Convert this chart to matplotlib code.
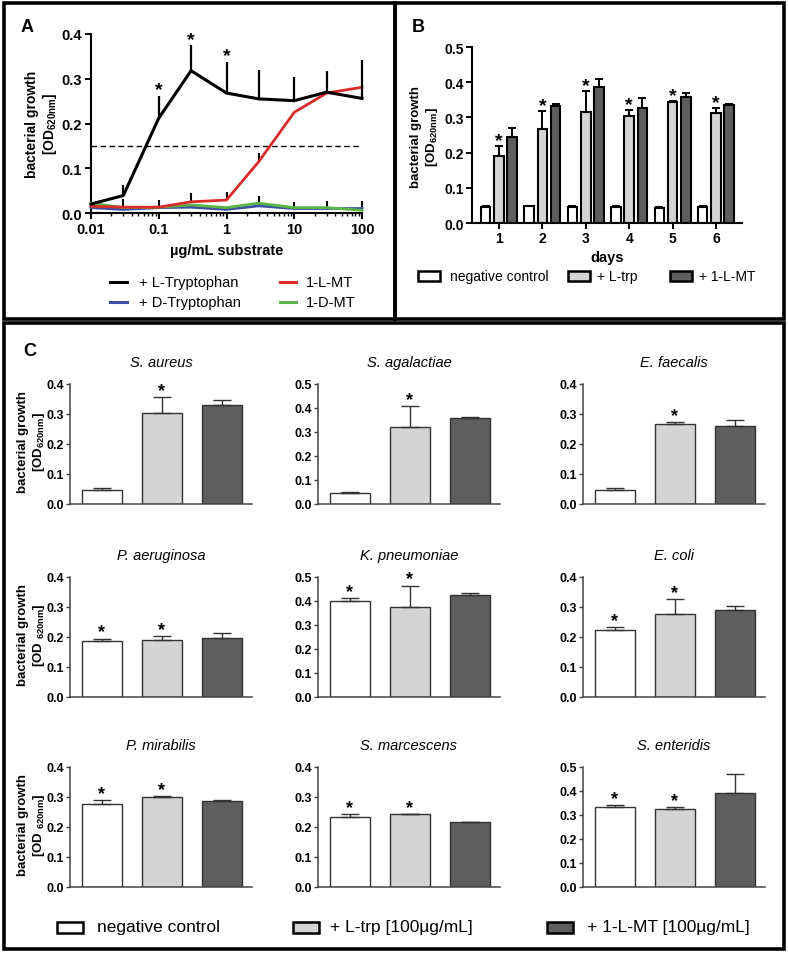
import matplotlib
matplotlib.use("Agg")
import matplotlib.pyplot as plt
from matplotlib.patches import Rectangle
from matplotlib.lines import Line2D
import numpy as np

plt.rcParams["font.family"] = ["Liberation Sans", "DejaVu Sans"]
plt.rcParams["mathtext.fontset"] = "custom"
plt.rcParams["mathtext.rm"] = "Liberation Sans"
plt.rcParams["mathtext.bf"] = "Liberation Sans:bold"
plt.rcParams["mathtext.it"] = "Liberation Sans:italic"

W, H = 788, 954

# ---- panel A data: dose response ----
conc = [0.01, 0.03, 0.1, 0.3, 1, 3, 10, 30, 100]
l_trp = [0.020, 0.039, 0.212, 0.318, 0.268, 0.255, 0.251, 0.270, 0.256]
l_trp_err = [0.0, 0.024, 0.050, 0.057, 0.070, 0.065, 0.054, 0.047, 0.087]
l_mt = [0.015, 0.013, 0.013, 0.025, 0.029, 0.115, 0.225, 0.268, 0.281]
l_mt_err = [0.0, 0.0, 0.0, 0.020, 0.018, 0.020, 0.0, 0.0, 0.0]
d_trp = [0.012, 0.008, 0.012, 0.013, 0.008, 0.016, 0.010, 0.010, 0.010]
d_trp_err = [0.0, 0.024, 0.018, 0.0, 0.0, 0.022, 0.015, 0.017, 0.017]
d_mt = [0.022, 0.012, 0.013, 0.018, 0.012, 0.022, 0.012, 0.012, 0.006]
a_star = [False, False, True, True, True, False, False, False, False]
a_xticks = [0.01, 0.1, 1, 10, 100]
a_xticklabels = ["0.01", "0.1", "1", "10", "100"]
threshold = 0.15

# ---- panel B data: time course ----
days = [1, 2, 3, 4, 5, 6]
b_neg = [0.045, 0.047, 0.046, 0.046, 0.043, 0.045]
b_neg_err = [0.002, 0.002, 0.002, 0.002, 0.002, 0.002]
b_trp = [0.190, 0.266, 0.316, 0.304, 0.343, 0.312]
b_trp_err = [0.030, 0.052, 0.060, 0.018, 0.004, 0.015]
b_mt = [0.245, 0.333, 0.386, 0.328, 0.358, 0.335]
b_mt_err = [0.025, 0.004, 0.024, 0.027, 0.010, 0.004]

# ---- panel C data: species ----
species = ["S. aureus", "S. agalactiae", "E. faecalis",
           "P. aeruginosa", "K. pneumoniae", "E. coli",
           "P. mirabilis", "S. marcescens", "S. enteridis"]
c_neg = [0.047, 0.044, 0.047, 0.187, 0.401, 0.224, 0.278, 0.232, 0.332]
c_neg_err = [0.006, 0.005, 0.006, 0.008, 0.010, 0.008, 0.013, 0.011, 0.008]
c_trp = [0.305, 0.322, 0.267, 0.191, 0.375, 0.276, 0.300, 0.244, 0.325]
c_trp_err = [0.052, 0.086, 0.006, 0.013, 0.089, 0.051, 0.004, 0.0, 0.007]
c_mt = [0.329, 0.357, 0.259, 0.198, 0.426, 0.291, 0.288, 0.216, 0.392]
c_mt_err = [0.017, 0.007, 0.022, 0.016, 0.007, 0.011, 0.001, 0.002, 0.077]
c_ymax = [0.4, 0.5, 0.4, 0.4, 0.5, 0.4, 0.4, 0.4, 0.5]
c_star_neg = [False, False, False, True, True, True, True, True, True]
c_star_trp = [True, True, True, True, True, True, True, True, True]

WHITE, LIGHT, DARK = "#ffffff", "#d4d4d4", "#5e5e5e"


def px_axes(fig, left, top, right, bottom):
    return fig.add_axes([left / W, 1 - bottom / H, (right - left) / W, (bottom - top) / H])


def fx(px):
    return px / W


def fy(py):
    return 1 - py / H


def frame(fig, x0, y0, x1, y1):
    fig.patches.append(Rectangle((fx(x0), fy(y1)), fx(x1) - fx(x0), fy(y0) - fy(y1),
                                 transform=fig.transFigure, fill=False, lw=2.6,
                                 ec="black", zorder=10))


def star(ax, x, y, size=13, offset=1.0):
    ax.annotate("*", (x, y), xytext=(0, offset), textcoords="offset points",
                ha="center", va="baseline", fontsize=size, fontweight="bold",
                annotation_clip=False)


def legend_box(fig, x0, x1, yc, color, lw=1.6, h=10):
    fig.patches.append(Rectangle((fx(x0), fy(yc + h / 2)), fx(x1) - fx(x0), h / H,
                                 transform=fig.transFigure, fc=color, ec="black", lw=lw))


fig = plt.figure(figsize=(W / 100, H / 100), dpi=100)

# ================= Panel A =================
axA = px_axes(fig, 91, 35, 362, 214)
axA.plot(conc, d_trp, color="#3b4fa3", lw=2, zorder=3, clip_on=False)
axA.plot(conc, d_mt, color="#5bb548", lw=2, zorder=3, clip_on=False)
axA.errorbar(conc, d_trp, yerr=[np.zeros(len(conc)), d_trp_err], fmt="none",
             ecolor="black", elinewidth=1.5, capsize=0, zorder=2, clip_on=False)
axA.plot(conc, l_mt, color="#d92b2b", lw=2, zorder=4, clip_on=False)
axA.errorbar(conc, l_mt, yerr=[np.zeros(len(conc)), l_mt_err], fmt="none",
             ecolor="black", elinewidth=1.5, capsize=0, zorder=2, clip_on=False)
axA.plot(conc, l_trp, color="black", lw=2.2, zorder=5, clip_on=False)
axA.errorbar(conc, l_trp, yerr=[np.zeros(len(conc)), l_trp_err], fmt="none",
             ecolor="black", elinewidth=1.6, capsize=0, zorder=5, clip_on=False)
axA.axhline(threshold, color="black", lw=1.0, ls=(0, (4, 2.5)), zorder=1)
for xv, yv, ev, s in zip(conc, l_trp, l_trp_err, a_star):
    if s:
        star(axA, xv, yv + ev, size=14, offset=1.0)
axA.set_xscale("log")
axA.set_xlim(0.01, 100)
axA.set_ylim(0, 0.4)
axA.set_xticks(a_xticks)
axA.set_xticklabels(a_xticklabels)
axA.set_yticks([0.0, 0.1, 0.2, 0.3, 0.4])
axA.set_yticklabels(["0.0", "0.1", "0.2", "0.3", "0.4"])
for sp in ["top", "right"]:
    axA.spines[sp].set_visible(False)
for sp in ["left", "bottom"]:
    axA.spines[sp].set_linewidth(1.5)
axA.tick_params(which="major", direction="out", length=4.5, width=1.4, labelsize=10.5, pad=2)
axA.tick_params(which="minor", direction="out", length=2.5, width=1.0)
for lab in axA.get_xticklabels() + axA.get_yticklabels():
    lab.set_fontweight("bold")
axA.set_xlabel("µg/mL substrate", fontsize=10.5, fontweight="bold", labelpad=5)
fig.text(fx(42), fy(124), "bacterial growth\n[OD$_{\\mathbf{620nm}}$]", rotation=90,
         ha="center", va="center", fontsize=10, fontweight="bold", linespacing=1.1)
fig.text(fx(27), fy(27), "A", fontsize=13, fontweight="bold", ha="center", va="center")

a_leg = [("+ L-Tryptophan", "black", 110, 127, 139, 283),
         ("+ D-Tryptophan", "#3b4fa3", 110, 127, 139, 303),
         ("1-L-MT", "#d92b2b", 280, 296, 306, 283),
         ("1-D-MT", "#5bb548", 280, 296, 306, 303)]
for label, col, x0, x1, xt, yc in a_leg:
    fig.lines.append(Line2D([fx(x0), fx(x1)], [fy(yc), fy(yc)], transform=fig.transFigure,
                            color=col, lw=2.2))
    fig.text(fx(xt), fy(yc), label, fontsize=10.5, ha="left", va="center")

# ================= Panel B =================
axB = px_axes(fig, 472, 48, 742, 224)
bw = 0.22
off = 0.305
xd = np.array(days, dtype=float)
for shift, vals, errs, col in [(-off, b_neg, b_neg_err, WHITE),
                               (0.0, b_trp, b_trp_err, LIGHT),
                               (off, b_mt, b_mt_err, DARK)]:
    axB.bar(xd + shift, vals, width=bw, color=col, edgecolor="black", lw=1.5, zorder=2)
    axB.errorbar(xd + shift, vals, yerr=[np.zeros(len(days)), errs], fmt="none",
                 ecolor="black", elinewidth=1.4, capsize=2.6, capthick=1.4, zorder=3)
for xv, yv, ev in zip(xd, b_trp, b_trp_err):
    star(axB, xv, yv + ev, size=14, offset=0.5)
axB.set_xlim(0.38, 6.6)
axB.set_ylim(0, 0.5)
axB.set_xticks(days)
axB.set_xticklabels([str(d) for d in days])
axB.set_yticks([0.0, 0.1, 0.2, 0.3, 0.4, 0.5])
axB.set_yticklabels(["0.0", "0.1", "0.2", "0.3", "0.4", "0.5"])
for sp in ["top", "right"]:
    axB.spines[sp].set_visible(False)
for sp in ["left", "bottom"]:
    axB.spines[sp].set_linewidth(1.5)
axB.tick_params(direction="out", length=4, width=1.4, labelsize=10, pad=1.5)
for lab in axB.get_xticklabels() + axB.get_yticklabels():
    lab.set_fontweight("bold")
axB.set_xlabel("days", fontsize=10.5, fontweight="bold", labelpad=4)
fig.text(fx(425), fy(137), "bacterial growth\n[OD$_{\\mathbf{620nm}}$]", rotation=90,
         ha="center", va="center", fontsize=9.5, fontweight="bold", linespacing=1.1)
fig.text(fx(418), fy(27), "B", fontsize=13, fontweight="bold", ha="center", va="center")

for x0, x1, xt, col, label in [(418, 440, 450, WHITE, "negative control"),
                               (568, 590, 597, LIGHT, "+ L-trp"),
                               (670, 692, 699, DARK, "+ 1-L-MT")]:
    legend_box(fig, x0, x1, 277, col, lw=1.8, h=10)
    fig.text(fx(xt), fy(277), label, fontsize=10, ha="left", va="center")

# ================= Panel C =================
col_left = [70, 318, 583]
row_top = [385, 578, 768]
cw, ch = 182, 120
xs = np.arange(3)
for i, name in enumerate(species):
    r, c = divmod(i, 3)
    left, top = col_left[c], row_top[r]
    ax = px_axes(fig, left, top, left + cw, top + ch)
    vals = [c_neg[i], c_trp[i], c_mt[i]]
    errs = [c_neg_err[i], c_trp_err[i], c_mt_err[i]]
    ax.bar(xs, vals, width=0.667, color=[WHITE, LIGHT, DARK], edgecolor="#333333",
           lw=1.0, zorder=2)
    ax.errorbar(xs, vals, yerr=[np.zeros(3), errs], fmt="none", ecolor="#333333",
                elinewidth=1.0, capsize=6.5, capthick=1.0, zorder=3)
    if c_star_neg[i]:
        star(ax, xs[0], vals[0] + errs[0], size=13, offset=1.5)
    if c_star_trp[i]:
        star(ax, xs[1], vals[1] + errs[1], size=13, offset=1.5)
    ax.set_xlim(-0.53, 2.5)
    ax.set_ylim(0, c_ymax[i])
    ticks = np.round(np.arange(0, c_ymax[i] + 0.001, 0.1), 1)
    ax.set_yticks(ticks)
    ax.set_yticklabels(["%.1f" % t for t in ticks])
    ax.set_xticks([])
    for sp in ["top", "right"]:
        ax.spines[sp].set_visible(False)
    for sp in ["left", "bottom"]:
        ax.spines[sp].set_linewidth(1.1)
        ax.spines[sp].set_color("#444444")
    ax.tick_params(axis="y", direction="out", length=3, width=1.0, color="#444444",
                   labelsize=9, pad=1.5)
    for lab in ax.get_yticklabels():
        lab.set_fontweight("bold")
    ax.text(0.5, 1 + 22 / ch, name, transform=ax.transAxes, ha="center", va="center",
            fontsize=10.5, style="italic")
    if c == 0:
        lab2 = "[OD$_{\\mathbf{620nm}}$]" if r == 0 else "[OD $_{\\mathbf{620nm}}$]"
        fig.text(fx(32), fy(top + ch / 2 - 3), "bacterial growth\n" + lab2, rotation=90,
                 ha="center", va="center", fontsize=9.5, fontweight="bold", linespacing=1.1)

fig.text(fx(30), fy(352), "C", fontsize=13, fontweight="bold", ha="center", va="center")

for x0, x1, xt, col, label in [(57, 83, 97, WHITE, "negative control"),
                               (293, 319, 330, LIGHT, "+ L-trp [100µg/mL]"),
                               (547, 573, 587, DARK, "+ 1-L-MT [100µg/mL]")]:
    legend_box(fig, x0, x1, 928, col, lw=1.8, h=11)
    fig.text(fx(xt), fy(928), label, fontsize=12.5, ha="left", va="center")

# ================= frames =================
frame(fig, 4, 4, 395, 320)
frame(fig, 395, 4, 784, 320)
frame(fig, 4, 324, 784, 950)

fig.savefig("out.png", dpi=100)
plt.close(fig)
